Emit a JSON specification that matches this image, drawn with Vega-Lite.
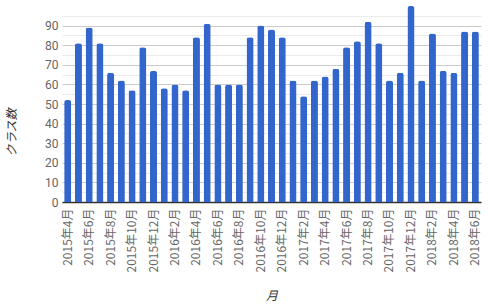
{
  "$schema": "https://vega.github.io/schema/vega-lite/v6.json",
  "width": 419,
  "height": 196,
  "autosize": {"type": "none"},
  "padding": {"left": 62, "top": 6, "right": 7, "bottom": 102},
  "background": "white",
  "config": {
    "font": "Roboto",
    "view": {"stroke": null}
  },
  "data": {
    "values": [
      {"month": "2015年4月", "count": 52},
      {"month": "2015年5月", "count": 81},
      {"month": "2015年6月", "count": 89},
      {"month": "2015年7月", "count": 81},
      {"month": "2015年8月", "count": 66},
      {"month": "2015年9月", "count": 62},
      {"month": "2015年10月", "count": 57},
      {"month": "2015年11月", "count": 79},
      {"month": "2015年12月", "count": 67},
      {"month": "2016年1月", "count": 58},
      {"month": "2016年2月", "count": 60},
      {"month": "2016年3月", "count": 57},
      {"month": "2016年4月", "count": 84},
      {"month": "2016年5月", "count": 91},
      {"month": "2016年6月", "count": 60},
      {"month": "2016年7月", "count": 60},
      {"month": "2016年8月", "count": 60},
      {"month": "2016年9月", "count": 84},
      {"month": "2016年10月", "count": 90},
      {"month": "2016年11月", "count": 88},
      {"month": "2016年12月", "count": 84},
      {"month": "2017年1月", "count": 62},
      {"month": "2017年2月", "count": 54},
      {"month": "2017年3月", "count": 62},
      {"month": "2017年4月", "count": 64},
      {"month": "2017年5月", "count": 68},
      {"month": "2017年6月", "count": 79},
      {"month": "2017年7月", "count": 82},
      {"month": "2017年8月", "count": 92},
      {"month": "2017年9月", "count": 81},
      {"month": "2017年10月", "count": 62},
      {"month": "2017年11月", "count": 66},
      {"month": "2017年12月", "count": 100},
      {"month": "2018年1月", "count": 62},
      {"month": "2018年2月", "count": 86},
      {"month": "2018年3月", "count": 67},
      {"month": "2018年4月", "count": 66},
      {"month": "2018年5月", "count": 87},
      {"month": "2018年6月", "count": 87}
    ]
  },
  "mark": {"type": "bar", "color": "#3366cc", "cornerRadiusTopLeft": 2.5, "cornerRadiusTopRight": 2.5},
  "encoding": {
    "x": {
      "field": "month",
      "type": "ordinal",
      "sort": null,
      "scale": {"paddingInner": 0.34, "paddingOuter": 0.2},
      "axis": {
        "title": "月",
        "titleFont": "Noto Sans CJK JP",
        "titleFontSize": 12,
        "titleFontWeight": "normal",
        "titleFontStyle": "italic",
        "titleColor": "#333333",
        "titleY": 93,
        "titleBaseline": "middle",
        "labelAngle": -90,
        "labelFont": "Noto Sans CJK JP",
        "labelFontSize": 12,
        "labelColor": "#666666",
        "labelPadding": 6,
        "labelExpr": "indexof(['2015年4月','2015年6月','2015年8月','2015年10月','2015年12月','2016年2月','2016年4月','2016年6月','2016年8月','2016年10月','2016年12月','2017年2月','2017年4月','2017年6月','2017年8月','2017年10月','2017年12月','2018年2月','2018年4月','2018年6月'], datum.value) >= 0 ? datum.label : ''",
        "labelOverlap": false,
        "ticks": false,
        "domainColor": "#333333",
        "domainWidth": 1.5,
        "grid": false
      }
    },
    "y": {
      "field": "count",
      "type": "quantitative",
      "scale": {"domain": [0, 100], "nice": false},
      "axis": {
        "title": "クラス数",
        "titleFont": "Noto Sans CJK JP",
        "titleFontSize": 12,
        "titleFontWeight": "normal",
        "titleFontStyle": "italic",
        "titleColor": "#333333",
        "titleX": -51,
        "titleY": 126,
        "titleAngle": -90,
        "titleBaseline": "middle",
        "values": [0, 5, 10, 15, 20, 25, 30, 35, 40, 45, 50, 55, 60, 65, 70, 75, 80, 85, 90, 95],
        "labelExpr": "datum.value % 10 === 0 ? datum.label : ''",
        "labelFontSize": 12,
        "labelColor": "#666666",
        "labelPadding": 4,
        "ticks": false,
        "domain": false,
        "grid": true,
        "gridColor": {"condition": {"test": "datum.value % 10 === 0", "value": "#cccccc"}, "value": "#ebebeb"}
      }
    }
  }
}
